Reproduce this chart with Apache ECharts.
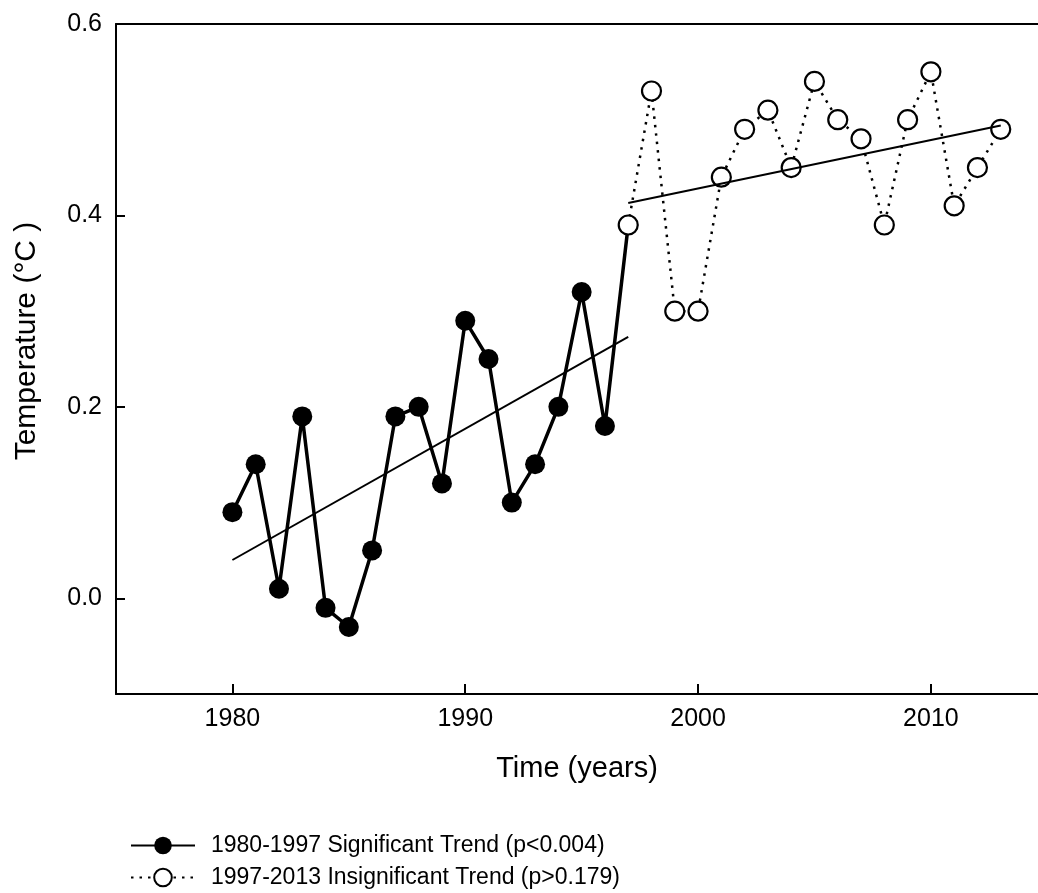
<!DOCTYPE html>
<html>
<head>
<meta charset="utf-8">
<title>Temperature trend 1980-2013</title>
<script src="https://cdn.jsdelivr.net/npm/echarts@6/dist/echarts.min.js"></script>
<style>
  html, body { margin: 0; padding: 0; background: #ffffff; }
  #chart { width: 1038px; height: 893px; }
</style>
</head>
<body>
<div id="chart"></div>
<script>
// Annual temperature values, 1980-1997 (significant trend period)
const years1 = [1980, 1981, 1982, 1983, 1984, 1985, 1986, 1987, 1988, 1989,
                1990, 1991, 1992, 1993, 1994, 1995, 1996, 1997];
const temps1 = [0.09, 0.14, 0.01, 0.19, -0.01, -0.03, 0.05, 0.19, 0.20, 0.12,
                0.29, 0.25, 0.10, 0.14, 0.20, 0.32, 0.18, 0.39];

// Annual temperature values, 1997-2013 (insignificant trend period)
const years2 = [1997, 1998, 1999, 2000, 2001, 2002, 2003, 2004, 2005,
                2006, 2007, 2008, 2009, 2010, 2011, 2012, 2013];
const temps2 = [0.39, 0.53, 0.30, 0.30, 0.44, 0.49, 0.51, 0.45, 0.54,
                0.50, 0.48, 0.39, 0.50, 0.55, 0.41, 0.45, 0.49];

// Fitted trend lines: [start year, value], [end year, value]
const trend1 = [[1980, 0.040], [1997, 0.273]];
const trend2 = [[1997, 0.413], [2013, 0.494]];

// Axis tick positions
const xTicks = [1980, 1990, 2000, 2010];
const yTicks = [0.0, 0.2, 0.4, 0.6];

const seriesNames = [
  '1980-1997 Significant Trend (p<0.004)',
  '1997-2013 Insignificant Trend (p>0.179)'
];

const pairs = (xs, ys) => xs.map((x, i) => [x, ys[i]]);

const FONT = 'Liberation Sans, Arial, sans-serif';
const INK = '#000000';
const X_MIN = 1975;
const X_MAX = 2014.6;

const chart = echarts.init(document.getElementById('chart'), null, { renderer: 'canvas' });

chart.setOption({
  animation: false,
  backgroundColor: '#ffffff',
  textStyle: { fontFamily: FONT, color: INK },
  grid: {
    left: 116,
    top: 24,
    right: 0,
    bottom: 199,
    show: false
  },
  legend: {
    orient: 'vertical',
    left: 130,
    top: 834,
    padding: 0,
    itemWidth: 64,
    itemHeight: 22,
    itemGap: 9,
    data: seriesNames,
    textStyle: { fontFamily: FONT, fontSize: 23, color: INK, padding: [0, 0, 0, 11] },
    selectedMode: false
  },
  xAxis: [
    {
      type: 'value',
      position: 'bottom',
      min: X_MIN,
      max: X_MAX,
      name: 'Time (years)',
      nameLocation: 'middle',
      nameGap: 60,
      nameTextStyle: { fontFamily: FONT, fontSize: 29, color: INK },
      axisLine: { show: true, onZero: false, lineStyle: { color: INK, width: 2 } },
      axisTick: {
        show: true, inside: true, length: 10,
        customValues: xTicks,
        lineStyle: { color: INK, width: 2 }
      },
      axisLabel: {
        show: true, margin: 13,
        customValues: xTicks,
        fontFamily: FONT, fontSize: 25, color: INK,
        formatter: v => String(v)
      },
      splitLine: { show: false }
    },
    {
      // top frame line only
      type: 'value',
      position: 'top',
      min: X_MIN,
      max: X_MAX,
      axisLine: { show: true, onZero: false, lineStyle: { color: INK, width: 2 } },
      axisTick: { show: false },
      axisLabel: { show: false },
      splitLine: { show: false }
    }
  ],
  yAxis: {
    type: 'value',
    min: -0.1,
    max: 0.6,
    name: 'Temperature (°C )',
    nameLocation: 'middle',
    nameGap: 74,
    nameRotate: 90,
    nameTextStyle: { fontFamily: FONT, fontSize: 30, color: INK, padding: [0, 0, 0, 36] },
    axisLine: { show: true, onZero: false, lineStyle: { color: INK, width: 2 } },
    axisTick: {
      show: true, inside: true, length: 9,
      customValues: yTicks,
      lineStyle: { color: INK, width: 2 }
    },
    axisLabel: {
      show: true, margin: 14,
      customValues: yTicks,
      fontFamily: FONT, fontSize: 25, color: INK,
      formatter: v => Number(v).toFixed(1)
    },
    splitLine: { show: false }
  },
  series: [
    {
      name: seriesNames[0],
      type: 'line',
      data: pairs(years1, temps1),
      symbol: 'circle',
      symbolSize: 20,
      showAllSymbol: true,
      lineStyle: { color: INK, width: 3.5 },
      itemStyle: { color: INK, borderColor: INK, borderWidth: 0 },
      z: 2
    },
    {
      name: seriesNames[1],
      type: 'line',
      data: pairs(years2, temps2),
      symbol: 'circle',
      symbolSize: 19,
      showAllSymbol: true,
      lineStyle: { color: INK, width: 2.5, type: [2.5, 6] },
      itemStyle: { color: '#ffffff', borderColor: INK, borderWidth: 2.2 },
      z: 3
    },
    {
      name: 'trend-1980-1997',
      type: 'line',
      data: trend1,
      symbol: 'none',
      lineStyle: { color: INK, width: 2 },
      z: 4
    },
    {
      name: 'trend-1997-2013',
      type: 'line',
      data: trend2,
      symbol: 'none',
      lineStyle: { color: INK, width: 2 },
      z: 4
    }
  ]
});
</script>
</body>
</html>
